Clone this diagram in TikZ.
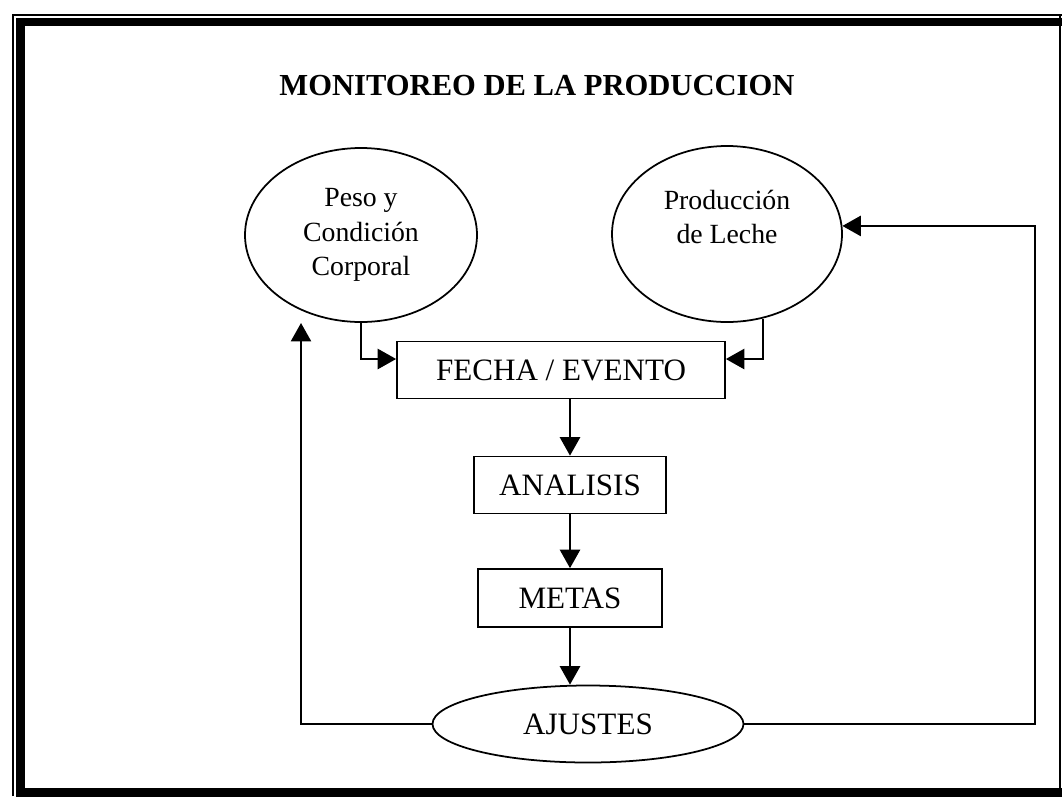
\documentclass[tikz,border=0pt]{standalone}
\usepackage{fontspec}
\setmainfont{Liberation Serif}
\usepackage{tikz}
\usetikzlibrary{shapes,arrows.meta,positioning}

\begin{document}
\begin{tikzpicture}[
  box/.style={rectangle, draw, line width=1pt, minimum height=1.14cm, inner sep=0pt, align=center, font=\fontsize{17.7}{21}\selectfont},
  oval/.style={ellipse, draw, line width=1pt, inner sep=0pt, align=center, font=\fontsize{15.8}{19.6}\selectfont},
  arrow/.style={-{Triangle[length=10.5pt,width=11.5pt]}, line width=1.1pt},
  heading/.style={font=\fontsize{17.4}{21}\selectfont\bfseries}
]
\useasboundingbox (0,0) rectangle (21.24,-15.92);
% Page frame
\draw[line width=0.6pt] (0.26,-15.92) -- (0.26,-0.30) -- (21.24,-0.30);
\draw[line width=0.6pt] (21.2,-0.30) -- (21.2,-15.92);
\draw[line width=4.6pt] (21.24,-0.44) -- (0.41,-0.44) -- (0.41,-15.85) -- (21.24,-15.85);
% Title
\node[heading] (title) at (10.74,-1.72) {MONITOREO DE LA PRODUCCION};
% Inputs
\node[oval, minimum width=4.64cm, minimum height=3.48cm] (peso) at (7.22,-4.70) {Peso y\\Condición\\Corporal};
\node[oval, minimum width=4.60cm, minimum height=3.52cm] (leche) at (14.54,-4.68) {Producción\\de Leche\\\mbox{}};
% Main chain
\node[box, minimum width=6.56cm] (fecha) at (11.22,-7.40) {FECHA / EVENTO};
\node[box, minimum width=3.84cm] (analisis) at (11.40,-9.70) {ANALISIS};
\node[box, minimum width=3.68cm, minimum height=1.16cm] (metas) at (11.40,-11.96) {METAS};
\node[oval, minimum width=6.22cm, minimum height=1.54cm, font=\fontsize{17.7}{21}\selectfont] (ajustes) at (11.76,-14.48) {AJUSTES};
% Inputs into FECHA / EVENTO
\draw[arrow] (peso.south) |- ([yshift=0.22cm]fecha.west);
\draw[arrow] (leche.-67) |- ([yshift=0.22cm]fecha.east);
\draw[arrow] (analisis.north |- fecha.south) -- (analisis.north);
\draw[arrow] (analisis) -- (metas);
\draw[arrow] (metas.south) -- (metas.south |- ajustes.north);
% Feedback from AJUSTES
\coordinate (lcorner) at (6.02,-14.48);
\coordinate (ltip) at (6.02,-6.46);
\coordinate (rcorner) at (20.70,-14.48);
\draw[arrow] (ajustes.west) -- (lcorner) -- (ltip);
\draw[arrow] (ajustes.east) -- (rcorner) |- (leche.4);
\end{tikzpicture}
\end{document}
